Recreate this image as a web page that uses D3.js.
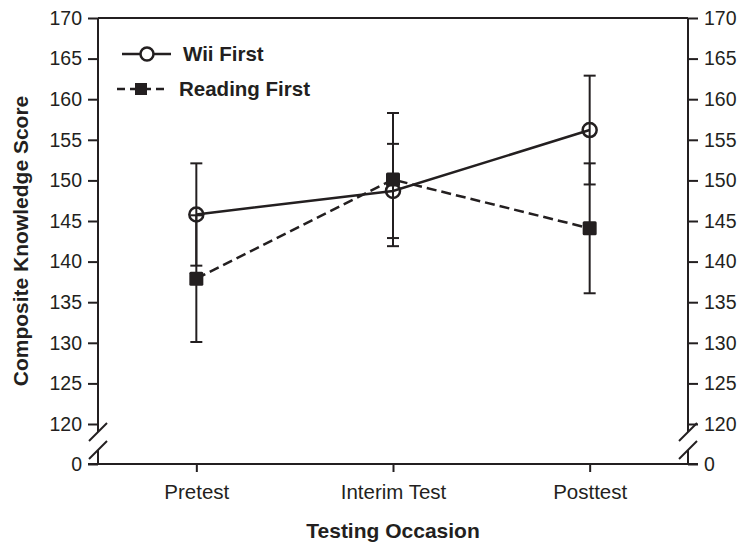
<!DOCTYPE html>
<html>
  <head>
    <title>Composite Knowledge Score</title>
    <script src="https://cdn.jsdelivr.net/npm/d3@7/dist/d3.min.js"></script>
    <style>
      body { margin: 0; background: #fff; }
      text { font-family: "Liberation Sans", Arial, sans-serif; fill: #231f20; }
    </style>
  </head>
  <body>
    <script>
      // values
      var occasions = ["Pretest", "Interim Test", "Posttest"];
      var wiiMean = [145.8, 148.7, 156.2];
      var wiiErr = [6.3, 5.8, 6.7];
      var readMean = [137.9, 150.1, 144.1];
      var readErr = [7.8, 8.2, 8.0];
      var yTicks = [0, 120, 125, 130, 135, 140, 145, 150, 155, 160, 165, 170];

      var ink = "#231f20";
      // note: "top" is taken by window.top, so use plot* names
      var plotLeft = 98, plotRight = 688, plotTop = 18, plotBottom = 464;

      var svg = d3.select("body").append("svg")
                  .attr("width", 745)
                  .attr("height", 547);

      var x = d3.scalePoint().domain(occasions).range([plotLeft, plotRight]).padding(0.5);
      // broken axis: 0..120 squeezed into the bottom strip
      var y = d3.scaleLinear().domain([0, 120, 170]).range([plotBottom, 424, plotTop]);

      // y axes, left and right
      var yl = svg.append("g").attr("transform", "translate(" + plotLeft + ",0)")
                  .call(d3.axisLeft(y).tickValues(yTicks).tickSize(10).tickPadding(6));
      var yr = svg.append("g").attr("transform", "translate(" + plotRight + ",0)")
                  .call(d3.axisRight(y).tickValues(yTicks).tickSize(10).tickPadding(6));
      [yl, yr].forEach(function(g){
        g.select(".domain").remove();
        g.selectAll(".tick line").attr("stroke", ink).attr("stroke-width", 2);
        g.selectAll(".tick text").style("font-size", "19.5px").attr("fill", ink);
      });

      // x axis
      var xa = svg.append("g").attr("transform", "translate(0," + plotBottom + ")")
                  .call(d3.axisBottom(x).tickSize(8).tickPadding(12));
      xa.select(".domain").remove();
      xa.selectAll(".tick line").attr("stroke", ink).attr("stroke-width", 2);
      xa.selectAll(".tick text").style("font-size", "20.5px").attr("fill", ink);

      // frame with the axis break
      var b1 = y(120) + 8, b2 = y(120) + 26;
      var frame = svg.append("g").attr("stroke", ink).attr("stroke-width", 2).attr("fill", "none");
      frame.append("line").attr("x1", plotLeft).attr("x2", plotRight).attr("y1", plotTop).attr("y2", plotTop);
      frame.append("line").attr("x1", plotLeft - 10).attr("x2", plotRight + 10)
           .attr("y1", plotBottom).attr("y2", plotBottom);
      [plotLeft, plotRight].forEach(function(ax){
        frame.append("line").attr("x1", ax).attr("x2", ax).attr("y1", plotTop).attr("y2", b1);
        frame.append("line").attr("x1", ax).attr("x2", ax).attr("y1", b2).attr("y2", plotBottom);
        [b1, b2].forEach(function(by){
          frame.append("line").attr("x1", ax - 9).attr("y1", by + 9)
               .attr("x2", ax + 9).attr("y2", by - 9);
        });
      });

      // error bars
      function errorBars(mean, err){
        var g = svg.append("g").attr("stroke", ink).attr("stroke-width", 2);
        occasions.forEach(function(o, i){
          var cx = x(o), hi = y(mean[i] + err[i]), lo = y(mean[i] - err[i]);
          g.append("line").attr("x1", cx).attr("x2", cx).attr("y1", hi).attr("y2", lo);
          g.append("line").attr("x1", cx - 6).attr("x2", cx + 6).attr("y1", hi).attr("y2", hi);
          g.append("line").attr("x1", cx - 6).attr("x2", cx + 6).attr("y1", lo).attr("y2", lo);
        });
      }
      errorBars(wiiMean, wiiErr);
      errorBars(readMean, readErr);

      var line = d3.line()
                   .x(function(d, i){ return x(occasions[i]); })
                   .y(function(d){ return y(d); });

      svg.append("path").datum(wiiMean).attr("d", line)
         .attr("fill", "none").attr("stroke", ink).attr("stroke-width", 2.5);
      svg.append("path").datum(readMean).attr("d", line)
         .attr("fill", "none").attr("stroke", ink).attr("stroke-width", 2.5)
         .attr("stroke-dasharray", "10,5");

      // markers
      svg.selectAll("circle.wii").data(wiiMean).enter().append("circle")
         .attr("class", "wii")
         .attr("cx", function(d, i){ return x(occasions[i]); })
         .attr("cy", function(d){ return y(d); })
         .attr("r", 7)
         .attr("fill", "none").attr("stroke", ink).attr("stroke-width", 2.5);
      svg.selectAll("rect.read").data(readMean).enter().append("rect")
         .attr("class", "read")
         .attr("x", function(d, i){ return x(occasions[i]) - 7; })
         .attr("y", function(d){ return y(d) - 7; })
         .attr("width", 14).attr("height", 14).attr("rx", 1.5)
         .attr("fill", ink);

      // legend
      var lg = svg.append("g");
      lg.append("line").attr("x1", 122).attr("x2", 171).attr("y1", 54).attr("y2", 54)
        .attr("stroke", ink).attr("stroke-width", 2.5);
      lg.append("circle").attr("cx", 147).attr("cy", 54).attr("r", 6.5)
        .attr("fill", "#fff").attr("stroke", ink).attr("stroke-width", 2.5);
      lg.append("text").attr("x", 183).attr("y", 61).text("Wii First")
        .style("font-size", "20.5px").style("font-weight", "bold");
      lg.append("line").attr("x1", 117).attr("x2", 165).attr("y1", 89).attr("y2", 89)
        .attr("stroke", ink).attr("stroke-width", 2.5).attr("stroke-dasharray", "8,5");
      lg.append("rect").attr("x", 135).attr("y", 83).attr("width", 12).attr("height", 12)
        .attr("fill", ink);
      lg.append("text").attr("x", 179).attr("y", 96).text("Reading First")
        .style("font-size", "20.5px").style("font-weight", "bold");

      // axis titles
      svg.append("text").attr("x", (plotLeft + plotRight) / 2).attr("y", 538)
         .attr("text-anchor", "middle").text("Testing Occasion")
         .style("font-size", "21px").style("font-weight", "bold");
      svg.append("text")
         .attr("transform", "translate(28," + (plotTop + plotBottom) / 2 + ") rotate(-90)")
         .attr("text-anchor", "middle").text("Composite Knowledge Score")
         .style("font-size", "21px").style("font-weight", "bold");
    </script>
  </body>
</html>
